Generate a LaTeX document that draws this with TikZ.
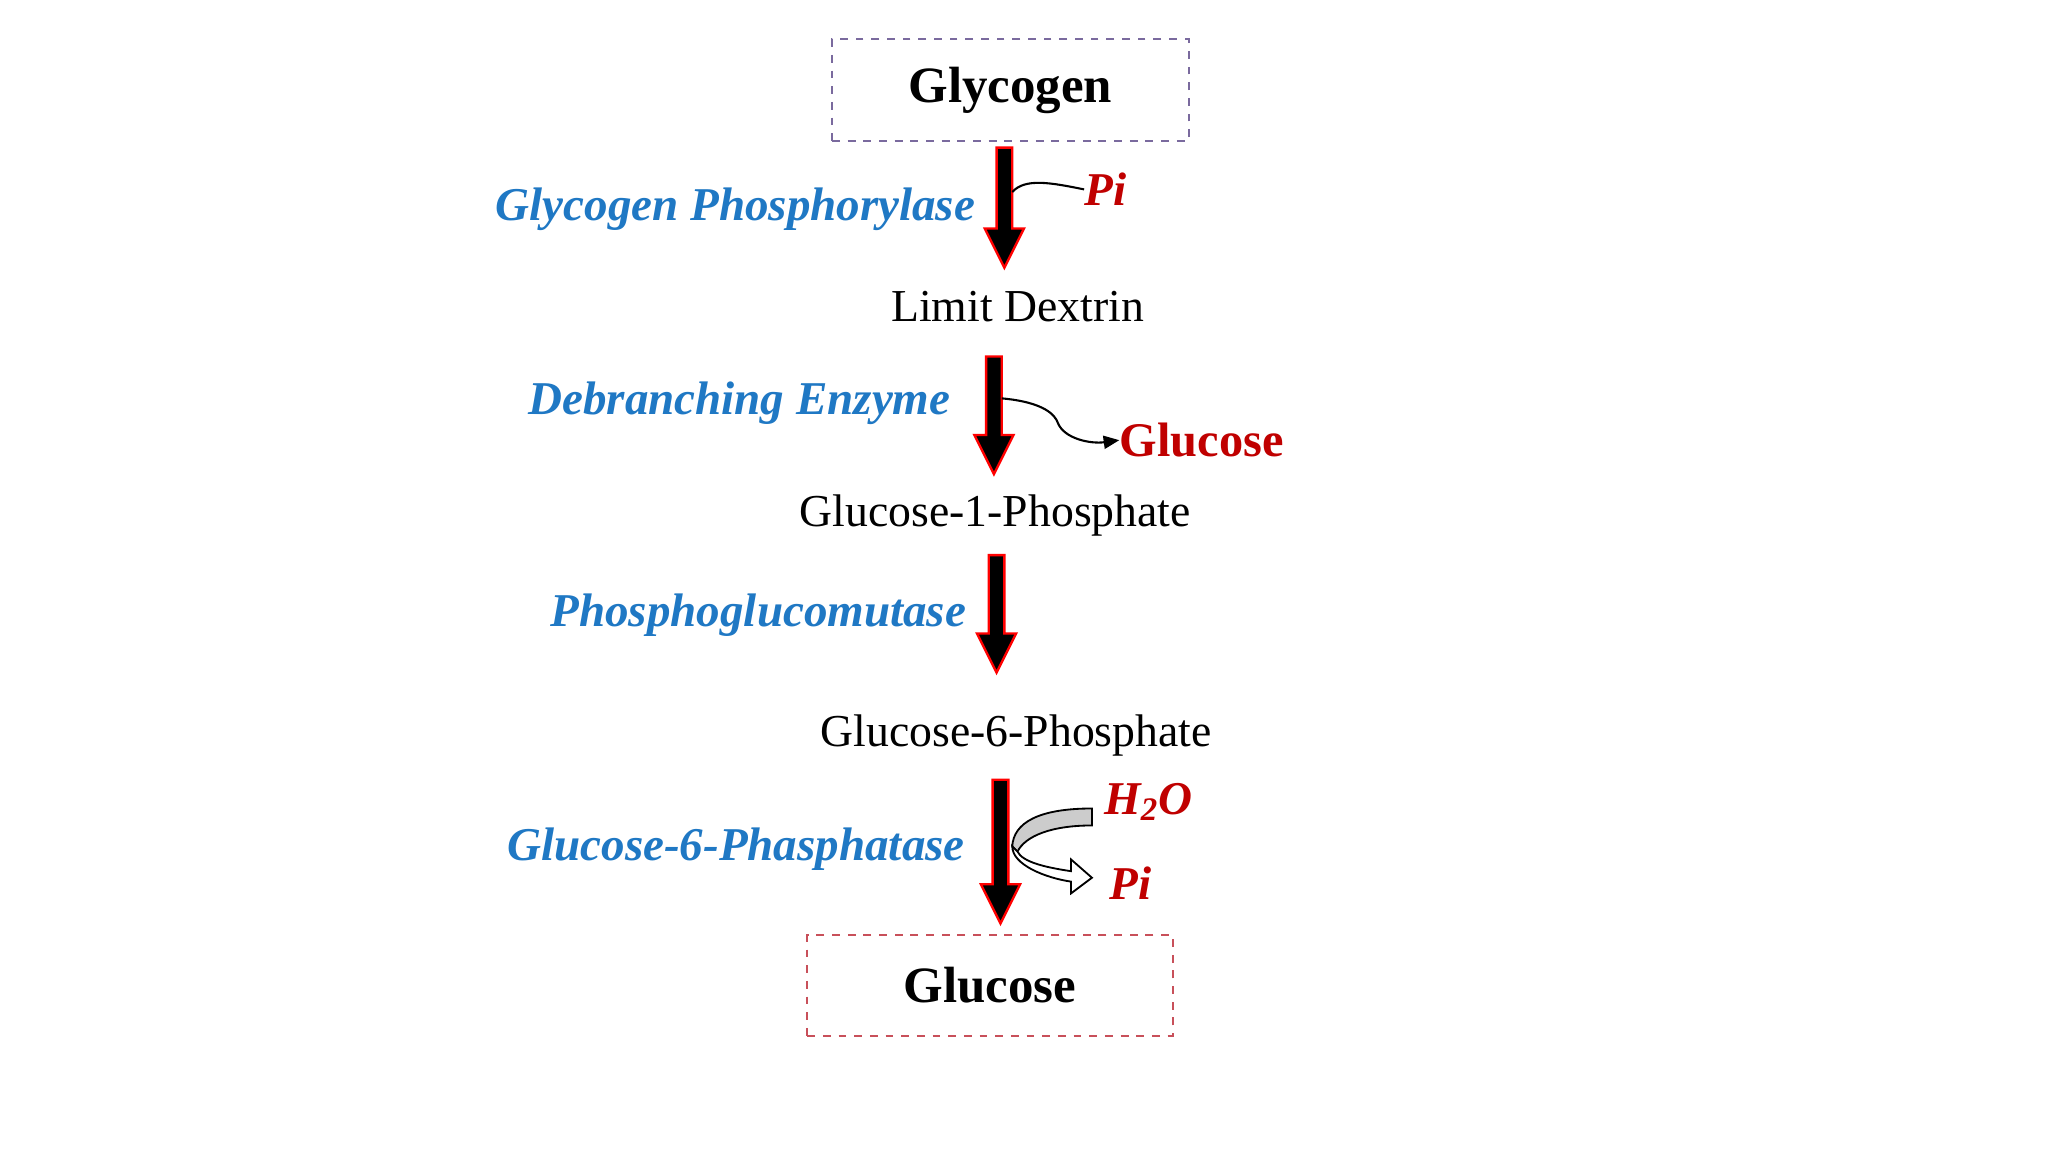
\documentclass[tikz,border=0pt]{standalone}
\usepackage{fontspec}
\setmainfont{Liberation Serif}
\usetikzlibrary{arrows.meta}
\definecolor{enz}{HTML}{1F78C4}
\definecolor{dred}{HTML}{C00000}
\definecolor{pbox}{HTML}{7A6A9E}
\definecolor{rbox}{HTML}{C8505A}
\tikzset{
  x=0.5pt,y=-0.5pt,
  enzyme/.style={text=enz,font=\fontsize{18}{20}\selectfont\bfseries\itshape,anchor=east,inner sep=0},
  metab/.style={font=\fontsize{17.5}{20}\selectfont,inner sep=0},
  side/.style={text=dred,font=\fontsize{18}{20}\selectfont\bfseries\itshape,inner sep=0},
  endbox/.style={font=\fontsize{19.5}{22}\selectfont\bfseries,dashed,line width=0.8pt,minimum width=136.5pt,minimum height=39pt},
  barr/.pic={\draw[red,line width=0.9pt,fill=black,line join=miter]
     (-6,0)--(6,0)--(6,#1-30)--(15,#1-30)--(0,#1)--(-15,#1-30)--(-6,#1-30)--cycle;}
}
\begin{document}
\begin{tikzpicture}
\useasboundingbox[fill=white] (0,0) rectangle (1568,882);
\node[endbox,draw=pbox] (glycogen) at (773.5,69) {Glycogen};
\node[endbox,draw=rbox,minimum width=140pt,minimum height=38.5pt] (glucose) at (758,754.5) {Glucose};
\node[metab] (ld) at (779,235) {Limit Dextrin};
\node[metab] (g1p) at (762,395) {Glucose-1-Phosphate};
\node[metab] (g6p) at (778,563) {Glucose-6-Phosphate};
\node[enzyme] (e1) at (747,160) {Glycogen Phosphorylase};
\node[enzyme] (e2) at (728,309) {Debranching Enzyme};
\node[enzyme] (e3) at (740,471) {Phosphoglucomutase};
\node[enzyme] (e4) at (739,650) {Glucose-6-Phasphatase};
\pic at (769,113) {barr=92};
\pic at (761,273) {barr=90};
\pic at (763,425) {barr=90};
\pic at (766,597) {barr=110};
\node[side,anchor=west] (pi1) at (830,145) {Pi};
\coordinate (c1) at (775,147);
\draw[line width=0.8pt] (c1) .. controls (785,136) and (805,140) .. (pi1.west);
\node[side,anchor=west,text=dred,font=\fontsize{18.5}{20}\selectfont\bfseries] (glc) at (857,337) {Glucose};
\coordinate (c2) at (767,305);
\draw[line width=0.8pt,-{Triangle[length=6pt,width=5pt]}] (c2) .. controls (800,308) and (808,318) .. (810,324) .. controls (815,336) and (835,340) .. (glc.west);
\node[side,anchor=west] (h2o) at (845,614) {H\textsubscript{2}O};
\node[side,anchor=west] (pi2) at (849,676) {Pi};
\draw[line width=0.7pt,fill=black!20] (836,619) .. controls (795,619) and (776,630) .. (775,648) -- (779,652) .. controls (785,640) and (805,632) .. (836,632) -- cycle;
\draw[line width=0.7pt,fill=white] (775,648) .. controls (775,662) and (800,672) .. (820,675) -- (820,684) -- (836,672) -- (820,658) -- (820,667) .. controls (800,664) and (783,660) .. (779,652) -- cycle;
\end{tikzpicture}
\end{document}
